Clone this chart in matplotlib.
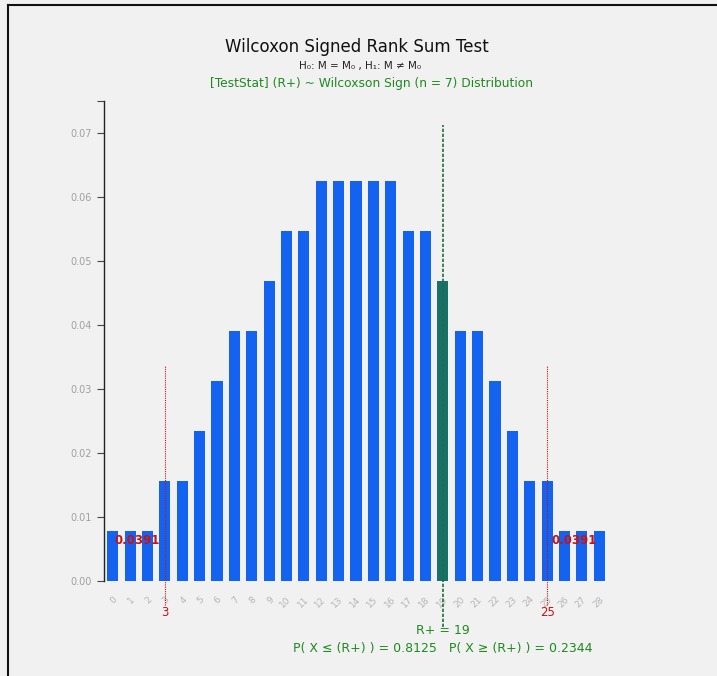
import matplotlib
matplotlib.use("Agg")
import matplotlib.pyplot as plt
from matplotlib.lines import Line2D

# Wilcoxon signed-rank null distribution, n = 7 (counts out of 2^7 = 128)
n = 7
r_values = list(range(0, 29))
counts = [1, 1, 1, 2, 2, 3, 4, 5, 5, 6, 7, 7, 8, 8, 8,
          8, 8, 7, 7, 6, 5, 5, 4, 3, 2, 2, 1, 1, 1]
probs = [c / 128 for c in counts]

test_stat = 19
crit_lower = 3
crit_upper = 25
tail_prob_label = "0.0391"
p_le = 0.8125
p_ge = 0.2344

y_max = 0.075
crit_line_top = 0.03375
crit_line_bottom = -0.0038
stat_line_top = 0.07125
stat_line_bottom = -0.0072
tail_label_y = 0.0063
tail_label_x = [1.4, 26.55]

bg = "#f1f1f1"
blue = "#1462f0"
green_bar = "#17706a"
green = "#1e8a1e"
red = "#cc1111"

fig = plt.figure(figsize=(7.17, 6.76), dpi=100, facecolor=bg)
ax = fig.add_axes([104 / 717, 1 - 580.7 / 676, 504 / 717, 479.7 / 676])
ax.set_facecolor(bg)

colors = [green_bar if r == test_stat else blue for r in r_values]
ax.bar(r_values, probs, width=0.64, color=colors, zorder=2)

ax.set_xlim(-0.5, 28.5)
ax.set_ylim(0, y_max)

# critical value markers
for cv in (crit_lower, crit_upper):
    ax.vlines(cv, crit_line_bottom, crit_line_top, color=red, lw=0.8,
              linestyles=(0, (1, 1)), zorder=3, clip_on=False)
for tx in tail_label_x:
    ax.text(tx, tail_label_y, tail_prob_label, color=red, fontsize=8.5,
            fontweight="bold", ha="center", va="center", zorder=4)

# observed statistic marker
ax.vlines(test_stat, stat_line_bottom, stat_line_top, color="#1f6e3a", lw=1.2,
          linestyles=(0, (2, 1)), zorder=3, clip_on=False)

# axes styling
for s in ("top", "right", "bottom"):
    ax.spines[s].set_visible(False)
ax.spines["left"].set_color("#222222")
ax.spines["left"].set_linewidth(1.0)

yt = [0.0, 0.01, 0.02, 0.03, 0.04, 0.05, 0.06, 0.07]
ax.set_yticks(yt)
ax.set_yticklabels([f"{v:.2f}" for v in yt], color="#a0a0a0", fontsize=7)
ax.set_yticks([y_max], minor=True)
ax.tick_params(axis="y", which="both", length=5, color="#444444", width=0.8)

ax.set_xticks(r_values)
ax.set_xticklabels([str(r) for r in r_values], rotation=45, fontsize=6.5,
                   color="#b5b5b5", ha="right", rotation_mode="anchor")
ax.tick_params(axis="x", length=0, pad=10)
ax.axhline(0, color="#555555", lw=0.6, ls=(0, (1, 1)), zorder=3)

# critical values under the axis
for cv in (crit_lower, crit_upper):
    ax.annotate(str(cv), xy=(cv, 0), xycoords="data", xytext=(0, -23),
                textcoords="offset points", ha="center", va="center",
                color=red, fontsize=8.5)

# statistic text under the axis
ax.annotate(f"R+ = {test_stat}", xy=(test_stat, 0), xycoords="data",
            xytext=(0, -35.5), textcoords="offset points", ha="center",
            va="center", color=green, fontsize=9)
ax.annotate(f"P( X \u2264 (R+) ) = {p_le:.4f}   P( X \u2265 (R+) ) = {p_ge:.4f}",
            xy=(test_stat, 0), xycoords="data", xytext=(0, -48.5),
            textcoords="offset points", ha="center", va="center",
            color=green, fontsize=9)

# titles
fig.text(357 / 717, 1 - 47 / 676, "Wilcoxon Signed Rank Sum Test",
         ha="center", va="center", fontsize=12, color="#111111")
fig.text(360 / 717, 1 - 66 / 676, "H\u2080: M = M\u2080 , H\u2081: M \u2260 M\u2080",
         ha="center", va="center", fontsize=7.5, color="#222222")
fig.text(371 / 717, 1 - 83 / 676,
         f"[TestStat] (R+) ~ Wilcoxson Sign (n = {n}) Distribution",
         ha="center", va="center", fontsize=8.8, color=green)

# frame lines along top and left edges
fig.add_artist(Line2D([8 / 717, 1], [1 - 5 / 676, 1 - 5 / 676],
                      transform=fig.transFigure, color="#111111", lw=1.5))
fig.add_artist(Line2D([8 / 717, 8 / 717], [0, 1 - 5 / 676],
                      transform=fig.transFigure, color="#111111", lw=1.5))

fig.savefig("out.png", dpi=100, facecolor=bg)
